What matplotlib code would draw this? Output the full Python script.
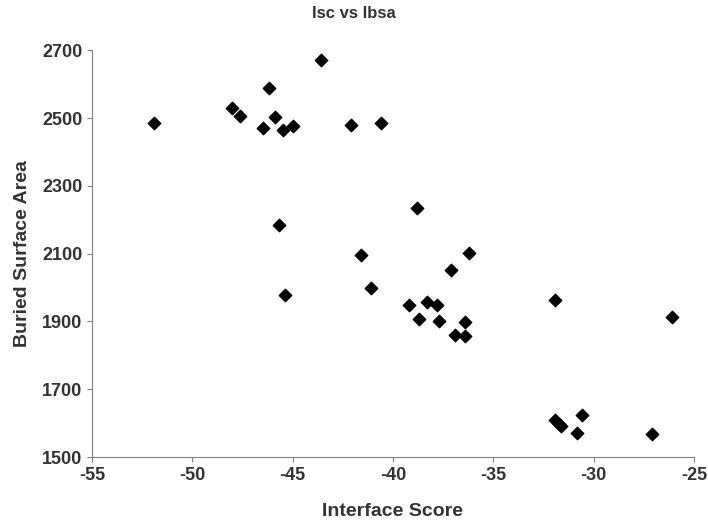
import matplotlib.pyplot as plt

plt.rcParams['font.family'] = 'Liberation Sans'
plt.rcParams['axes.unicode_minus'] = False

interface_score = [-51.9, -48.0, -47.6, -46.2, -45.9, -46.5, -45.5, -45.0, -43.6, -42.1,
                   -40.6, -45.7, -45.4, -41.6, -41.1, -38.8, -36.2, -37.1, -39.2, -38.3,
                   -37.8, -38.7, -37.7, -36.9, -36.4, -36.4, -31.9, -26.1, -31.9, -31.7,
                   -31.6, -30.6, -30.8, -27.1]
buried_area = [2485, 2530, 2506, 2589, 2503, 2470, 2464, 2476, 2670, 2479,
               2485, 2184, 1977, 2097, 2000, 2234, 2103, 2053, 1950, 1957,
               1948, 1906, 1900, 1859, 1897, 1856, 1963, 1912, 1610, 1598,
               1592, 1623, 1570, 1567]
xticks = [-55, -50, -45, -40, -35, -30, -25]
yticks = [1500, 1700, 1900, 2100, 2300, 2500, 2700]

fig = plt.figure(figsize=(7.08, 5.23), dpi=100)
ax = fig.add_axes([0.13, 0.126, 0.85, 0.778])
ax.scatter(interface_score, buried_area, marker='D', s=40, color='black', zorder=3)
ax.set_xlim(-55, -25)
ax.set_ylim(1500, 2700)
ax.set_xticks(xticks)
ax.set_yticks(yticks)
for s in ['top', 'right']:
    ax.spines[s].set_visible(False)
for s in ['left', 'bottom']:
    ax.spines[s].set_color('#808080')
ax.tick_params(labelsize=13, color='#808080')
for lab in ax.get_xticklabels() + ax.get_yticklabels():
    lab.set_fontweight('bold')
    lab.set_color('#333333')
ax.set_xlabel('Interface Score', fontsize=14, fontweight='bold', color='#333333', labelpad=14)
ax.set_ylabel('Buried Surface Area', fontsize=14, fontweight='bold', color='#333333', labelpad=8)
fig.text(0.5, 0.965, 'Isc vs Ibsa', ha='center', fontsize=12, fontweight='bold', color='#333333')
fig.savefig('out.png', dpi=100)
